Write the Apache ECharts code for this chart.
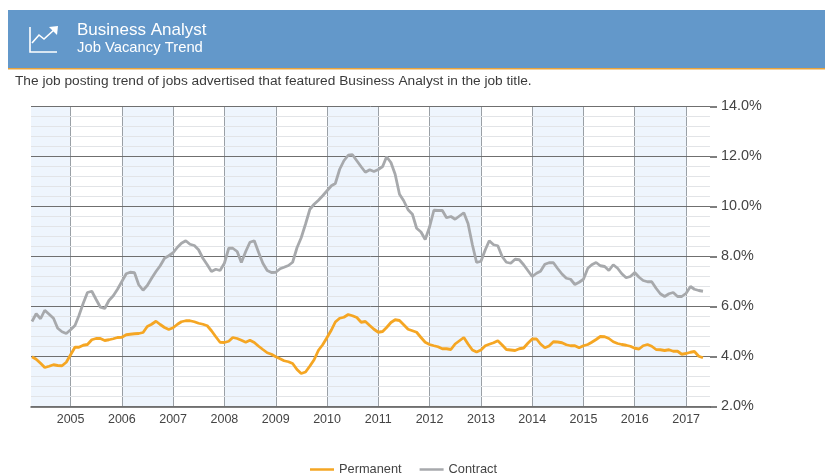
<!DOCTYPE html>
<html>
<head>
<meta charset="utf-8">
<style>html,body{margin:0;padding:0;background:#fff}#chart{width:825px;height:474px}</style>
<script src="https://cdn.jsdelivr.net/npm/echarts@6/dist/echarts.min.js"></script>
</head>
<body>
<div id="chart"></div>
<script>
// Share of advertised IT jobs mentioning the role, one value per month from April 2004 to May 2017.
const firstYear = 2004;
const firstMonth = 3; // zero-based: April

const permanent = [
  3.99, 3.89, 3.73, 3.56, 3.61, 3.67, 3.64, 3.63, 3.77,
  4.07, 4.37, 4.37, 4.45, 4.48, 4.67, 4.72, 4.72, 4.64, 4.67, 4.71, 4.76,
  4.77, 4.87, 4.89, 4.91, 4.92, 4.96, 5.20, 5.29, 5.41, 5.28, 5.16, 5.08,
  5.15, 5.29, 5.39, 5.43, 5.43, 5.39, 5.33, 5.29, 5.23, 5.03, 4.79, 4.57,
  4.56, 4.61, 4.76, 4.72, 4.65, 4.57, 4.65, 4.56, 4.41, 4.28, 4.15, 4.09,
  3.99, 3.91, 3.83, 3.79, 3.72, 3.48, 3.32, 3.38, 3.62, 3.87, 4.25, 4.47,
  4.76, 5.06, 5.38, 5.53, 5.57, 5.68, 5.63, 5.56, 5.37, 5.40, 5.24, 5.09,
  4.97, 5.00, 5.16, 5.36, 5.47, 5.44, 5.27, 5.09, 5.03, 4.97, 4.76, 4.57,
  4.48, 4.43, 4.39, 4.31, 4.31, 4.28, 4.50, 4.63, 4.76, 4.50, 4.26, 4.18,
  4.26, 4.43, 4.49, 4.55, 4.63, 4.46, 4.28, 4.26, 4.24, 4.31, 4.34, 4.53,
  4.70, 4.70, 4.50, 4.35, 4.42, 4.59, 4.58, 4.55, 4.47, 4.43, 4.43, 4.35,
  4.43, 4.48, 4.57, 4.68, 4.80, 4.79, 4.72, 4.59, 4.52, 4.48, 4.45, 4.41,
  4.33, 4.30, 4.43, 4.48, 4.41, 4.28, 4.27, 4.24, 4.27, 4.21, 4.21, 4.09,
  4.12, 4.17, 4.20, 4.01, 3.95
];

const contract = [
  5.40, 5.71, 5.51, 5.85, 5.69, 5.53, 5.13, 4.99, 4.92,
  5.07, 5.24, 5.63, 6.13, 6.56, 6.61, 6.29, 5.97, 5.92, 6.24, 6.43, 6.69,
  7.00, 7.31, 7.37, 7.35, 6.87, 6.65, 6.84, 7.13, 7.40, 7.63, 7.93, 8.03,
  8.15, 8.37, 8.53, 8.63, 8.49, 8.44, 8.27, 7.93, 7.67, 7.40, 7.49, 7.44,
  7.73, 8.33, 8.33, 8.20, 7.76, 8.20, 8.57, 8.63, 8.16, 7.73, 7.44, 7.36,
  7.37, 7.51, 7.57, 7.64, 7.77, 8.35, 8.75, 9.30, 9.89, 10.09, 10.25, 10.43,
  10.63, 10.83, 10.92, 11.49, 11.83, 12.05, 12.07, 11.83, 11.59, 11.37, 11.47, 11.40,
  11.48, 11.60, 11.99, 11.76, 11.29, 10.49, 10.23, 9.87, 9.69, 9.13, 8.98, 8.68,
  9.18, 9.85, 9.84, 9.84, 9.55, 9.60, 9.49, 9.62, 9.75, 9.32, 8.47, 7.76,
  7.81, 8.27, 8.63, 8.47, 8.43, 8.00, 7.77, 7.73, 7.89, 7.87, 7.67, 7.44,
  7.20, 7.33, 7.41, 7.69, 7.75, 7.75, 7.52, 7.30, 7.13, 7.09, 6.88, 6.97,
  7.09, 7.53, 7.67, 7.76, 7.63, 7.60, 7.44, 7.67, 7.53, 7.31, 7.15, 7.20,
  7.36, 7.17, 7.04, 6.99, 6.99, 6.73, 6.51, 6.40, 6.51, 6.56, 6.40, 6.40,
  6.53, 6.80, 6.69, 6.64, 6.61
];

const yTicks = { min: 2, max: 14, step: 2 };

const monthDates = permanent.map((_, i) => Date.UTC(firstYear, firstMonth + i, 1));
const toPairs = values => values.map((v, i) => [monthDates[i], v]);

const chart = echarts.init(document.getElementById('chart'), null, { renderer: 'canvas' });

chart.setOption({
  useUTC: true,
  animation: false,
  backgroundColor: '#ffffff',
  textStyle: { fontFamily: 'Liberation Sans, Arial, sans-serif' },
  grid: { left: 31, right: 115, top: 106.5, height: 300, containLabel: false },
  legend: {
    left: 305, top: 458,
    icon: 'rect', itemWidth: 24, itemHeight: 2.5, itemGap: 18,
    textStyle: { color: '#444', fontSize: 12.8, fontFamily: 'Liberation Sans, Arial, sans-serif' },
    data: ['Permanent', 'Contract']
  },
  xAxis: {
    type: 'time',
    min: Date.UTC(2004, 2, 25),
    max: Date.UTC(2017, 5, 20),
    splitNumber: 14,
    minInterval: 365 * 24 * 3600 * 1000,
    axisLine: { show: true, onZero: false, lineStyle: { color: '#555', width: 1.5 } },
    axisTick: { show: false },
    axisLabel: {
      color: '#444', fontSize: 12.5, margin: 7,
      showMinLabel: false, showMaxLabel: false,
      hideOverlap: false,
      formatter: value => String(new Date(value).getUTCFullYear())
    },
    splitLine: { show: true, showMinLine: false, showMaxLine: false, lineStyle: { color: '#9aa0a6', width: 1 } },
    splitArea: { show: true, areaStyle: { color: ['rgba(90,160,235,0.1)', 'rgba(255,255,255,0)'] } }
  },
  yAxis: {
    type: 'value',
    position: 'right',
    z: 2,
    min: yTicks.min, max: yTicks.max, interval: yTicks.step,
    axisLine: { show: false },
    axisTick: { show: true, length: 7, lineStyle: { color: '#555', width: 1.5 } },
    axisLabel: { color: '#444', fontSize: 14.4, margin: 11, formatter: value => value.toFixed(1) + '%' },
    splitLine: { show: true, lineStyle: { color: '#6f6f6f', width: 1 } },
    minorTick: { show: false, splitNumber: 5 },
    minorSplitLine: { show: true, lineStyle: { color: '#e2e4e7', width: 1 } }
  },
  series: [
    {
      name: 'Permanent', type: 'line', data: toPairs(permanent), showSymbol: false, z: 4,
      lineStyle: { color: '#f5a623', width: 2.8 }, itemStyle: { color: '#f5a623' }
    },
    {
      name: 'Contract', type: 'line', data: toPairs(contract), showSymbol: false, z: 3,
      lineStyle: { color: '#a7a9ac', width: 2.8 }, itemStyle: { color: '#a7a9ac' }
    }
  ],
  graphic: [
    { type: 'rect', silent: true, z: 10, shape: { x: 8, y: 10, width: 817, height: 58 }, style: { fill: '#6398ca' } },
    { type: 'rect', silent: true, z: 10, shape: { x: 8, y: 68, width: 817, height: 1.5 }, style: { fill: '#e8a33d' } },
    { type: 'polyline', silent: true, z: 11, shape: { points: [[30, 27], [30, 52], [57, 52]] }, style: { stroke: '#fff', lineWidth: 1.6, fill: null } },
    { type: 'polyline', silent: true, z: 11, shape: { points: [[32, 43], [39, 35], [44, 39], [55, 29]] }, style: { stroke: '#fff', lineWidth: 1.6, fill: null } },
    { type: 'polygon', silent: true, z: 11, shape: { points: [[49, 27], [58, 26], [57, 35]] }, style: { fill: '#fff' } },
    { type: 'text', silent: true, z: 11, style: { x: 77, y: 30, text: 'Business Analyst', fill: '#fff', font: '17px "Liberation Sans", Arial, sans-serif', verticalAlign: 'middle' } },
    { type: 'text', silent: true, z: 11, style: { x: 77, y: 48, text: 'Job Vacancy Trend', fill: '#fff', font: '14.8px "Liberation Sans", Arial, sans-serif', verticalAlign: 'middle' } },
    { type: 'text', silent: true, z: 11, style: { x: 15, y: 81, text: 'The job posting trend of jobs advertised that featured Business Analyst in the job title.', fill: '#3a3a3a', font: '13.7px "Liberation Sans", Arial, sans-serif', verticalAlign: 'middle' } }
  ]
});
</script>
</body>
</html>
